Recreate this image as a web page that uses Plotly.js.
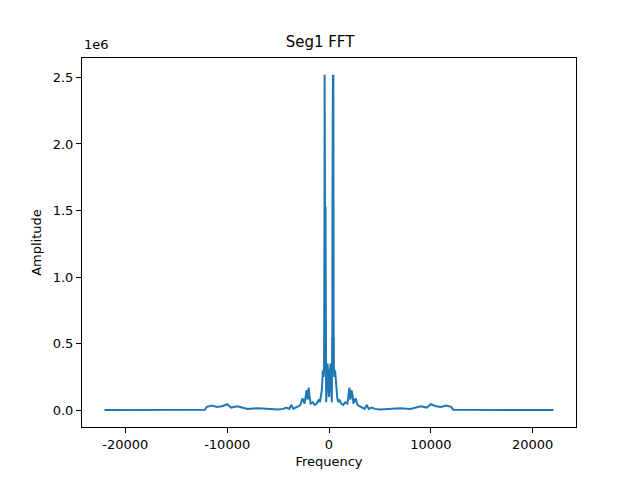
<!DOCTYPE html>
<html>
<head>
<meta charset="utf-8">
<script src="https://cdn.plot.ly/plotly-3.0.1.min.js"></script>
<style>body{margin:0}</style>
</head>
<body>
<div id="plot" style="width:640px;height:480px"></div>
<script>
// positive half of the spectrum (Hz) and amplitude (x1e6)
const posFreq = [0, 80, 150, 220, 280, 310, 325, 340, 355, 375, 385, 395, 410, 420, 430, 440, 455, 470, 485, 520, 600, 700, 800, 900, 1000, 1200, 1400, 1600, 1800, 1900, 2000, 2100, 2200, 2300, 2400, 2600, 2800, 3000, 3200, 3500, 3700, 3900, 4200, 4500, 5000, 6000, 7000, 8000, 9000, 9600, 10000, 10500, 11000, 11500, 12000, 12200, 15000, 22050];
const posAmp = [0.10, 0.28, 0.35, 0.15, 0.06, 0.55, 0.30, 1.53, 0.40, 1.53, 2.52, 1.53, 0.40, 1.53, 2.52, 1.53, 0.45, 0.55, 0.30, 0.25, 0.30, 0.15, 0.10, 0.06, 0.08, 0.05, 0.04, 0.06, 0.05, 0.10, 0.17, 0.08, 0.15, 0.12, 0.05, 0.09, 0.04, 0.03, 0.02, 0.01, 0.04, 0.01, 0.02, 0.01, 0.005, 0.01, 0.015, 0.01, 0.03, 0.02, 0.045, 0.03, 0.025, 0.035, 0.025, 0.003, 0.002, 0.001];

// FFT of a real signal is symmetric
const freq = posFreq.slice(1).reverse().map(f => -f).concat(posFreq);
const amp = posAmp.slice(1).reverse().concat(posAmp).map(a => a * 1e6);

const xTicks = [-20000, -10000, 0, 10000, 20000];
const yTicks = [0, 0.5e6, 1e6, 1.5e6, 2e6, 2.5e6];
const yTickText = ['0.0', '0.5', '1.0', '1.5', '2.0', '2.5'];

const axisStyle = {
  showline: true, mirror: true, linecolor: 'black', linewidth: 1,
  ticks: 'outside', ticklen: 5, tickcolor: 'black',
  showgrid: false, zeroline: false,
  tickfont: {family: 'DejaVu Sans', size: 13, color: 'black'}
};

const trace = {
  x: freq, y: amp, mode: 'lines', type: 'scatter',
  line: {color: '#1f77b4', width: 2}
};

const layout = {
  width: 640, height: 480,
  margin: {l: 82, r: 64, t: 58, b: 53},
  paper_bgcolor: 'white', plot_bgcolor: 'white',
  showlegend: false,
  title: {text: 'Seg1 FFT', font: {family: 'DejaVu Sans', size: 15, color: 'black'}, y: 0.912, yanchor: 'middle'},
  xaxis: Object.assign({}, axisStyle, {
    range: [-24255, 24255],
    tickvals: xTicks,
    ticktext: xTicks.map(String),
    title: {text: 'Frequency', font: {family: 'DejaVu Sans', size: 13, color: 'black'}, standoff: 6}
  }),
  yaxis: Object.assign({}, axisStyle, {
    range: [-0.126e6, 2.646e6],
    tickvals: yTicks,
    ticktext: yTickText,
    title: {text: 'Amplitude', font: {family: 'DejaVu Sans', size: 13, color: 'black'}, standoff: 8}
  }),
  annotations: [{
    text: '1e6', xref: 'paper', yref: 'paper', x: 0, y: 1, xanchor: 'left', yanchor: 'bottom',
    yshift: 4, showarrow: false, font: {family: 'DejaVu Sans', size: 13, color: 'black'}
  }]
};

Plotly.newPlot('plot', [trace], layout, {displayModeBar: false});
</script>
</body>
</html>
